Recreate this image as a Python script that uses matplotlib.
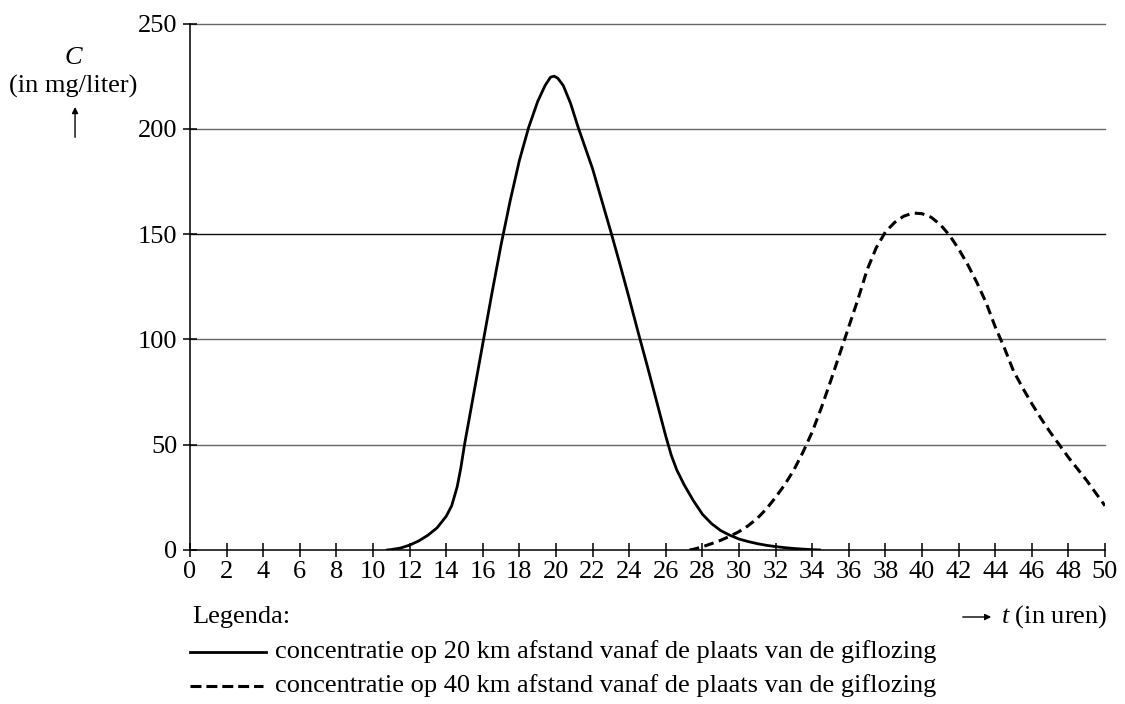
import numpy as np
import matplotlib
matplotlib.use("Agg")
import matplotlib.pyplot as plt
from matplotlib.lines import Line2D

###########################################################################################################
# Datos

# Concentratie op 20 km (t in uren, C in mg/liter)
t_20 = [10.8, 11.0, 11.5, 12.0, 12.5, 13.0, 13.5, 14.0, 14.3, 14.6, 14.8, 15.0, 15.5, 16.0, 16.5,
        17.0, 17.5, 18.0, 18.5, 19.0, 19.4, 19.7, 19.9, 20.1, 20.4, 20.8, 21.2, 21.6, 22.0, 22.5,
        23.0, 23.5, 24.0, 24.5, 25.0, 25.5, 26.0, 26.3, 26.6, 27.0, 27.5, 28.0, 28.5, 29.0, 29.5,
        30.0, 30.5, 31.0, 31.5, 32.0, 32.5, 33.0, 33.5, 34.0, 34.4]
C_20 = [0, 0.2, 0.9, 2.3, 4.3, 7, 10.5, 16, 21, 30, 39, 50, 74, 98, 122,
        145, 166, 185, 200.5, 213, 220.5, 224.5, 225, 224, 220.5, 212, 201, 191, 181, 166,
        151, 135.5, 119.5, 103, 87, 70.5, 54, 45, 38, 31, 23.5, 17, 12.5, 9.2, 7,
        5.2, 4, 3, 2.2, 1.6, 1.1, 0.7, 0.4, 0.15, 0]

# Concentratie op 40 km
t_40 = [27.3, 27.5, 28.0, 28.5, 29.0, 29.5, 30.0, 30.5, 31.0, 31.5, 32.0, 32.5, 33.0, 33.5, 34.0,
        34.5, 35.0, 35.5, 36.0, 36.5, 37.0, 37.5, 38.0, 38.5, 39.0, 39.5, 40.0, 40.5, 41.0, 41.5,
        42.0, 42.5, 43.0, 43.5, 44.0, 44.5, 45.0, 45.5, 46.0, 46.5, 47.0, 47.5, 48.0, 48.5, 49.0,
        49.5, 50.0]
C_40 = [0, 0.3, 1.5, 3, 4.6, 6.5, 8.7, 11.5, 15, 19.5, 25, 31, 38, 46.5, 56,
        67.5, 80, 93, 106, 119, 133, 143.5, 151, 155.5, 158.5, 160, 159.7, 158, 154.5, 149.5,
        143, 135.5, 127, 117.5, 106, 96, 85, 77, 69.5, 62.5, 56, 50, 44, 38.5, 33,
        27, 21]

x_ticks = list(range(0, 51, 2))
y_ticks = [0, 50, 100, 150, 200, 250]

legenda_20 = "concentratie op 20 km afstand vanaf de plaats van de giflozing"
legenda_40 = "concentratie op 40 km afstand vanaf de plaats van de giflozing"

###########################################################################################################
# Estilo

plt.rcParams['font.family'] = ['Liberation Serif', 'DejaVu Serif']
plt.rcParams['mathtext.fontset'] = 'custom'
plt.rcParams['mathtext.rm'] = 'Liberation Serif'
plt.rcParams['mathtext.it'] = 'Liberation Serif:italic'
fs = 19

fig = plt.figure(figsize=(11.25, 7.04), dpi=100)
ax = fig.add_axes([0.1689, 0.2188, 0.8133, 0.7478])

# lineas horizontales (la de 150 sale mas oscura en el original)
for v in y_ticks[1:]:
    col = '0.05' if v == 150 else '0.4'
    ax.axhline(v, color=col, lw=1.0, zorder=1, clip_on=False)

ax.plot(t_20, C_20, color='black', lw=2.0, solid_joinstyle='round', zorder=3)
ax.plot(t_40, C_40, color='black', lw=2.2, dashes=(3.2, 1.8), zorder=3)

ax.set_xlim(0, 50)
ax.set_ylim(0, 250)
ax.set_xticks(x_ticks)
ax.set_yticks(y_ticks)
ax.tick_params(axis='both', direction='inout', length=10, width=1.1, labelsize=fs, colors='black')
ax.tick_params(axis='x', pad=3)
ax.tick_params(axis='y', pad=4)
for s in ['top', 'right']:
    ax.spines[s].set_visible(False)
for s in ['left', 'bottom']:
    ax.spines[s].set_linewidth(1.1)
    ax.spines[s].set_zorder(4)

###########################################################################################################
# Etiqueta eje Y
fig.text(0.0649, 0.918, "C", style='italic', ha='center', va='center', fontsize=fs)
fig.text(0.0649, 0.877, "(in mg/liter)", ha='center', va='center', fontsize=fs)
fig.add_artist(matplotlib.patches.FancyArrowPatch((0.0667, 0.801), (0.0667, 0.852),
               transform=fig.transFigure, arrowstyle='-|>', mutation_scale=9, lw=1.0, color='black'))

# Etiqueta eje X
y_row = 1 - 617 / 704
fig.add_artist(matplotlib.patches.FancyArrowPatch((960 / 1125, y_row), (994 / 1125, y_row),
               transform=fig.transFigure, arrowstyle='-|>', mutation_scale=9, lw=1.0, color='black'))
fig.text(0.984, y_row, "$t$ (in uren)", ha='right', va='center', fontsize=fs)

# Leyenda
fig.text(0.171, y_row, "Legenda:", ha='left', va='center', fontsize=fs)
y1 = 1 - 652 / 704
y2 = 1 - 686 / 704
fig.add_artist(Line2D([190 / 1125, 266 / 1125], [y1, y1], transform=fig.transFigure, color='black', lw=2.0))
fig.add_artist(Line2D([190 / 1125, 263 / 1125], [y2, y2], transform=fig.transFigure, color='black',
                      lw=2.2, dashes=(3.6, 1.6)))
fig.text(275 / 1125, y1, legenda_20, ha='left', va='center', fontsize=fs)
fig.text(275 / 1125, y2, legenda_40, ha='left', va='center', fontsize=fs)

fig.savefig("out.png", dpi=100)
